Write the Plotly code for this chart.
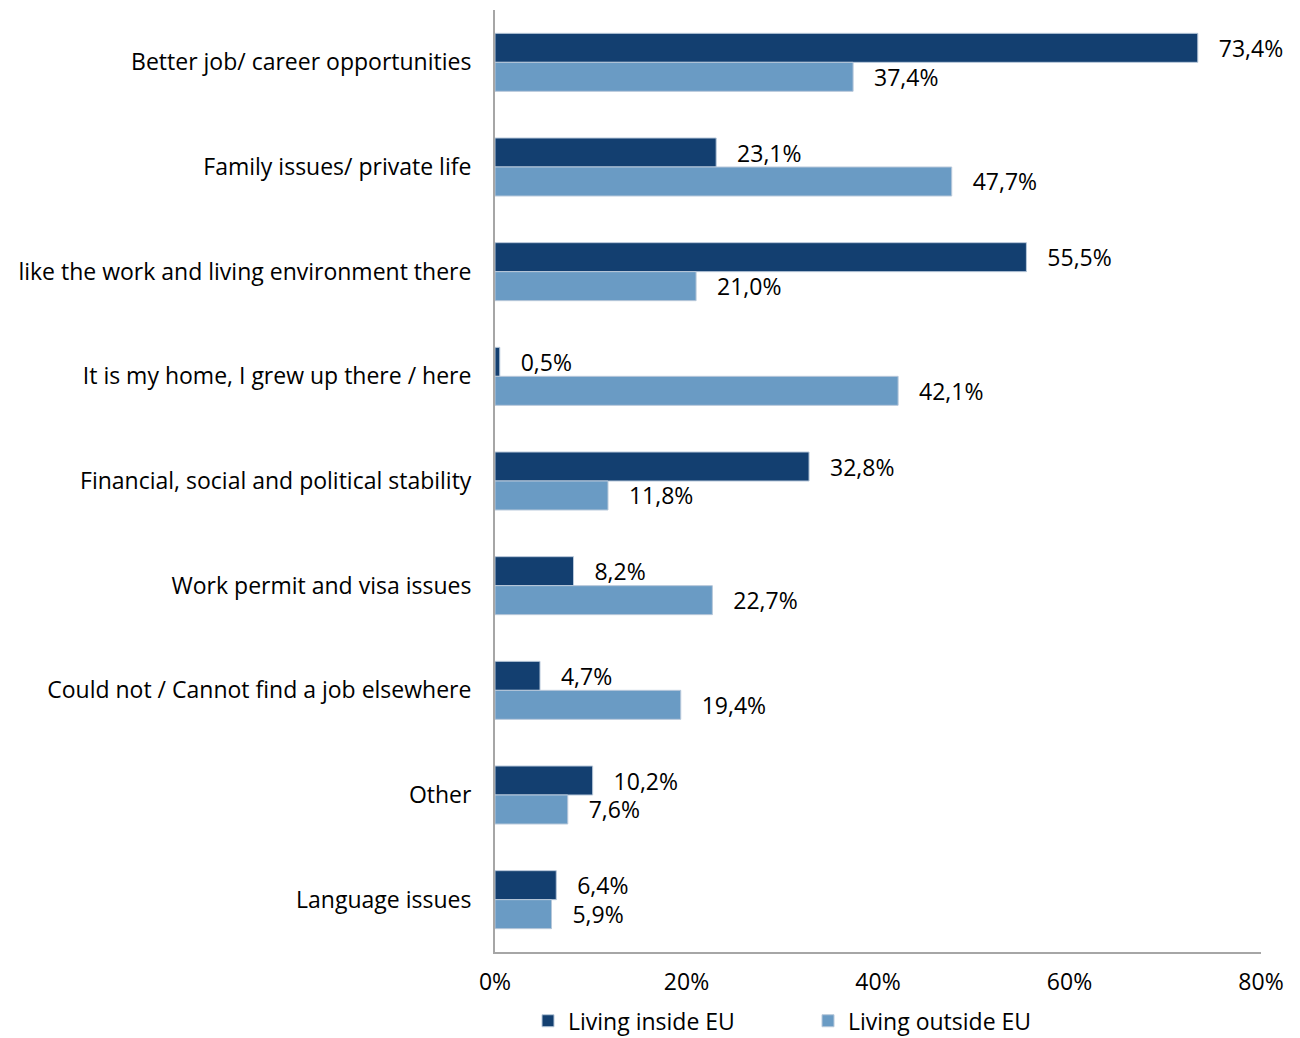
import plotly.graph_objects as go

categories = [
    "Better job/ career opportunities",
    "Family issues/ private life",
    "like the work and living environment there",
    "It is my home, I grew up there / here",
    "Financial, social and political stability",
    "Work permit and visa issues",
    "Could not / Cannot find a job elsewhere",
    "Other",
    "Language issues",
]
inside_eu = [73.4, 23.1, 55.5, 0.5, 32.8, 8.2, 4.7, 10.2, 6.4]
outside_eu = [37.4, 47.7, 21.0, 42.1, 11.8, 22.7, 19.4, 7.6, 5.9]
series_names = ["Living inside EU", "Living outside EU"]
tick_vals = [0, 20, 40, 60, 80]
tick_text = ["0%", "20%", "40%", "60%", "80%"]

FONT = "Open Sans, Lato, sans-serif"
FS = 23

def lab(v):
    return "   " + f"{v:.1f}".replace(".", ",") + "%"

fig = go.Figure()
for name, vals, col in [(series_names[0], inside_eu, "#133F70"),
                        (series_names[1], outside_eu, "#6A9BC4")]:
    fig.add_trace(go.Bar(
        y=categories, x=vals, name=name, orientation="h",
        marker=dict(color=col, line=dict(color="#B8C8DA", width=1)),
        text=[lab(v) for v in vals], textposition="outside",
        constraintext="none",
        textfont=dict(family=FONT, size=FS, color="#000000"),
        cliponaxis=False,
    ))

fig.update_layout(
    width=1300, height=1038,
    margin=dict(l=487, r=47, t=2, b=94, autoexpand=False),
    paper_bgcolor="white", plot_bgcolor="white",
    barmode="group", bargap=0.446, bargroupgap=0,
    font=dict(family=FONT, size=FS, color="#000000"),
    legend=dict(orientation="h", x=0.4, xanchor="left", xref="container",
                y=0.045, yanchor="top", yref="container",
                font=dict(family=FONT, size=FS), itemwidth=30,
                entrywidth=235, traceorder="normal", tracegroupgap=0),
    xaxis=dict(range=[0, 80], tickvals=tick_vals, ticktext=tick_text,
               showgrid=False, zeroline=False, showline=True,
               linecolor="#A6A6A6", linewidth=2, ticks="", automargin=False,
               ticklabelstandoff=8, tickfont=dict(family=FONT, size=FS)),
    yaxis=dict(autorange="reversed", showgrid=False, showline=True,
               linecolor="#A6A6A6", linewidth=2, ticks="", automargin=False,
               ticklabelstandoff=17, tickfont=dict(family=FONT, size=FS)),
)
fig.write_html("out.html")
